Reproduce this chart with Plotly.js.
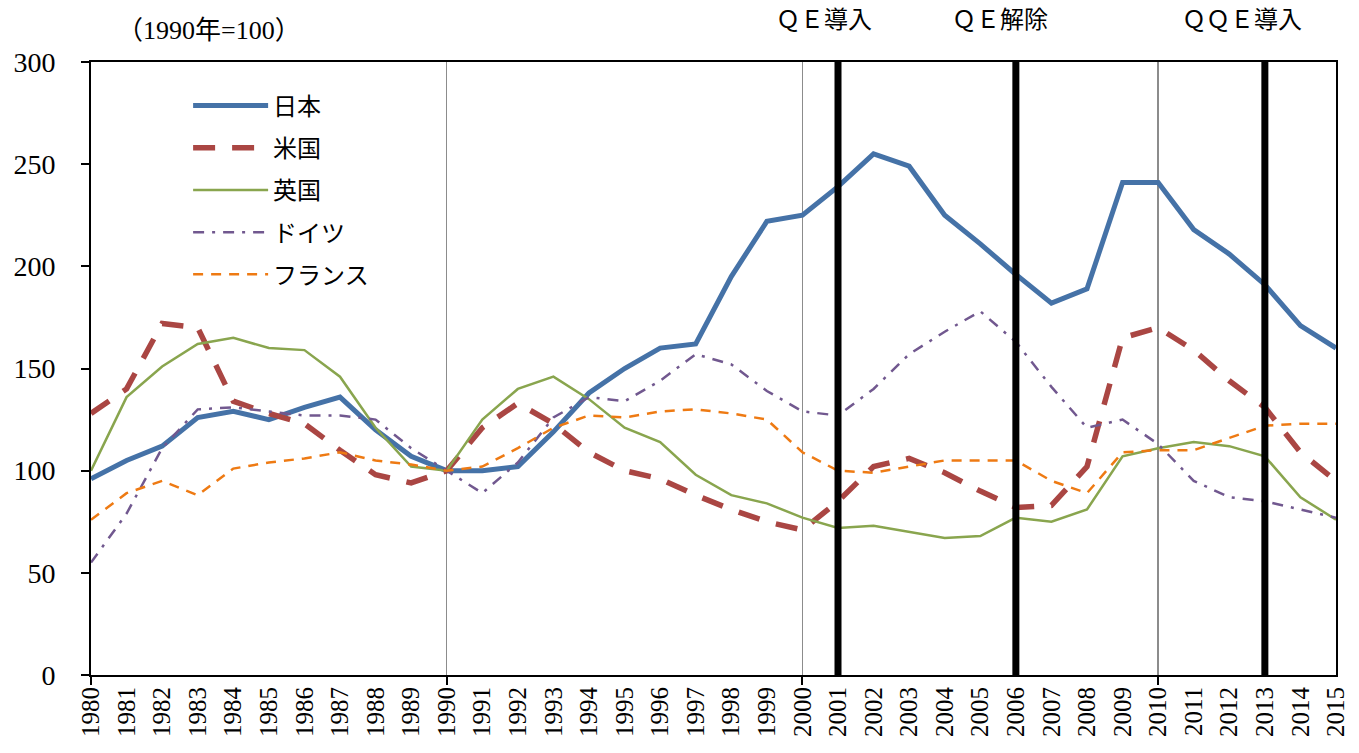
<!DOCTYPE html>
<html>
<head>
<meta charset="utf-8">
<script src="https://cdn.plot.ly/plotly-3.0.1.min.js"></script>
<style>html,body{margin:0;padding:0;background:#fff;}#chart{width:1359px;height:753px;}</style>
</head>
<body>
<div id="chart"></div>
<script>
// ---- data ----
var years = [1980,1981,1982,1983,1984,1985,1986,1987,1988,1989,1990,1991,1992,1993,1994,1995,1996,1997,1998,1999,2000,2001,2002,2003,2004,2005,2006,2007,2008,2009,2010,2011,2012,2013,2014,2015];
var japan   = [96,105,112,126,129,125,131,136,120,107,100,100,102,119,138,150,160,162,195,222,225,239,255,249,225,211,196,182,189,241,241,218,206,191,171,160];
var usa     = [128,140,172,170,134,128,123,110,98,94,100,121,133,123,109,100,96,88,81,75,71,85,102,106,99,90,82,83,102,165,170,159,144,131,109,95];
var uk      = [100,136,151,162,165,160,159,146,121,102,100,125,140,146,135,121,114,98,88,84,77,72,73,70,67,68,77,75,81,107,111,114,112,107,87,76];
var germany = [55,79,111,130,131,129,127,127,125,111,100,89,104,126,136,134,144,157,152,139,129,127,140,157,168,178,163,141,121,125,113,95,87,85,81,77];
var france  = [76,89,95,88,101,104,106,109,105,103,100,102,111,121,127,126,129,130,128,125,109,100,99,102,105,105,105,95,89,109,110,110,116,122,123,123];
var seriesNames = ['日本','米国','英国','ドイツ','フランス'];
var gridYears = [1990, 2000, 2010];
var eventYears = [2001, 2006, 2013];
var eventLabels = ['ＱＥ導入','ＱＥ解除','ＱＱＥ導入'];
var eventLabelYears = [2000.6, 2005.55, 2012.35];
var unitLabel = '（1990年=100）';

var FONT = 'Liberation Serif, "Noto Sans CJK JP", serif';
var JFONT = '"Noto Sans CJK JP", "Liberation Serif", serif';

var styles = [
  {color:'#4572A7', width:5, dash:'solid'},
  {color:'#AA4643', width:5.5, dash:'22px,17px'},
  {color:'#89A54E', width:2.5, dash:'solid'},
  {color:'#71588F', width:2.5, dash:'11px,8px,3px,8px'},
  {color:'#EE7A13', width:2.5, dash:'10px,8px'}
];
var vals = [japan, usa, uk, germany, france];

var traces = vals.map(function(v, i){
  return {
    x: years, y: v, type:'scatter', mode:'lines', name: seriesNames[i],
    legendgroup: 'g'+i,
    line: {color: styles[i].color, width: styles[i].width, dash: styles[i].dash},
    hoverinfo:'skip'
  };
});
// helper trace for decade ticks / gridlines on overlay axis
traces.push({x: gridYears, y: gridYears.map(function(){return 0;}), xaxis:'x2', type:'scatter', mode:'none', showlegend:false, hoverinfo:'skip'});

var shapes = [];
eventYears.forEach(function(yr){
  shapes.push({type:'line', xref:'x', yref:'paper', x0:yr, x1:yr, y0:0, y1:1, line:{color:'#000', width:7}, layer:'above'});
});

var annotations = [
  {text: unitLabel, xref:'paper', yref:'paper', x:0, y:1.0, yshift:32, xshift:24, xanchor:'left', yanchor:'middle', showarrow:false, font:{family:FONT, size:26, color:'#000'}}
];
eventLabels.forEach(function(t, i){
  annotations.push({text:t, xref:'x', yref:'paper', x:eventLabelYears[i], y:1, yshift:45, xanchor:'center', yanchor:'middle', showarrow:false, font:{family:JFONT, size:24, color:'#000'}});
});

var layout = {
  width:1359, height:753,
  margin:{l:91, r:23, t:62, b:78},
  paper_bgcolor:'#fff', plot_bgcolor:'#fff',
  font:{family:FONT, size:24, color:'#000'},
  showlegend:true,
  legend:{x:0.078, y:0.965, xanchor:'left', yanchor:'top', bgcolor:'rgba(0,0,0,0)', font:{family:JFONT, size:24, color:'#000'}, tracegroupgap:8, itemwidth:75},
  xaxis:{range:[1980,2015], tickmode:'array', tickvals:years, ticktext:years.map(String), tickangle:-90,
         showgrid:false, zeroline:false, showline:true, linecolor:'#000', linewidth:2, mirror:true, ticks:'',
         tickfont:{family:FONT, size:25}},
  xaxis2:{overlaying:'x', range:[1980,2015], tickmode:'array', tickvals:gridYears.concat([1980]), showticklabels:false,
          showgrid:true, gridcolor:'#8c8c8c', gridwidth:1.5, ticks:'outside', ticklen:9, tickwidth:2, tickcolor:'#000',
          zeroline:false, showline:false, side:'bottom', anchor:'y', layer:'below traces'},
  yaxis:{range:[0,300], dtick:50, tick0:0, showgrid:false, zeroline:false, showline:true, linecolor:'#000', linewidth:2, mirror:true,
         ticks:'outside', ticklen:8, tickwidth:2, tickcolor:'#000', tickfont:{family:FONT, size:28}, ticklabelstandoff:20},
  shapes: shapes,
  annotations: annotations
};

Plotly.newPlot('chart', traces, layout, {displayModeBar:false, staticPlot:true});
</script>
</body>
</html>
